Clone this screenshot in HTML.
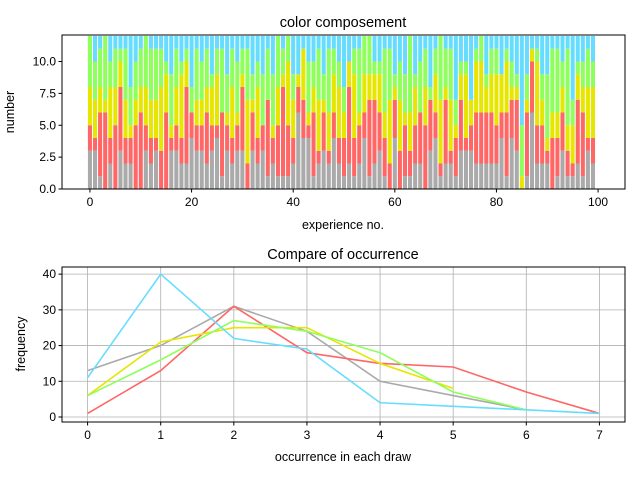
<!DOCTYPE html>
<html><head><meta charset="utf-8"><style>
body{margin:0;background:#fff;}
svg text{font-family:"Liberation Sans","DejaVu Sans",sans-serif;fill:#000;}
</style></head><body>
<svg id="c" width="640" height="479" xmlns="http://www.w3.org/2000/svg"></svg>
<script>
const gray=[3,3,1,0,2,0,3,2,2,0,0,3,2,3,0,0,3,3,2,2,4,3,3,2,3,4,1,3,2,3,3,0,3,2,3,1,2,1,1,1,2,6,4,4,1,2,3,2,4,2,1,2,1,2,4,1,2,3,1,0,4,0,1,1,2,2,0,3,4,1,2,2,1,3,3,3,2,2,2,2,2,4,1,4,3,0,1,6,2,2,2,0,1,3,1,1,2,1,3,2];
const red=[2,1,5,6,2,5,5,2,2,5,6,2,2,1,3,6,1,2,2,6,2,2,2,4,2,1,5,2,2,2,5,2,3,2,2,6,2,4,7,4,2,2,3,1,5,1,3,1,2,2,3,6,3,3,2,6,5,3,3,2,3,3,4,2,3,4,5,4,2,1,5,1,3,4,1,2,4,4,4,4,3,2,5,3,4,0,5,4,3,3,1,4,3,3,2,1,5,5,1,2];
const yellow=[3,3,2,1,4,3,2,3,1,2,2,3,3,3,5,3,1,3,5,2,0,2,2,2,3,4,0,1,4,1,1,5,1,4,0,0,1,3,1,5,3,1,4,1,2,4,1,3,3,4,2,2,5,1,3,2,2,3,2,5,1,4,1,3,3,0,3,0,3,5,1,4,1,2,5,2,4,4,2,3,4,3,4,1,1,1,1,1,5,2,1,2,2,2,2,3,2,2,4,4];
const green=[4,3,3,5,2,3,1,4,3,3,3,4,4,4,3,1,4,3,1,1,2,4,3,3,1,2,5,3,3,4,2,4,2,2,4,4,4,4,2,2,2,0,0,4,2,4,2,5,2,2,2,0,2,5,3,3,1,1,5,4,1,3,3,6,1,4,3,1,2,5,3,4,2,1,1,0,1,2,1,2,2,0,1,2,1,4,2,0,1,2,5,5,5,2,6,2,1,2,3,2];
const cyan=[0,2,1,0,2,1,1,1,4,2,1,0,1,1,1,2,3,1,2,1,4,1,2,1,3,1,1,3,1,2,1,1,3,2,3,1,3,0,1,0,3,3,1,2,2,1,3,1,1,2,4,2,1,1,0,0,2,2,1,1,3,2,3,0,3,2,1,4,1,0,1,1,5,2,2,5,1,0,3,1,1,3,1,2,3,7,3,1,1,3,3,1,1,2,1,5,2,2,1,2];
const occX=[0,1,2,3,4,5,6,7];
const freqGray=[13,20,31,24,10,6,2];
const freqRed=[1,13,31,18,15,14,7,1];
const freqYellow=[6,21,25,25,15,8];
const freqGreen=[6,16,27,24,18,7,2];
const freqCyan=[11,40,22,19,4,3,2,1];
const topYTicks=[0,2.5,5,7.5,10];
const topXTicks=[0,20,40,60,80,100];
const botYTicks=[0,10,20,30,40];

const svg=document.getElementById('c');const NS='http://www.w3.org/2000/svg';
function mk(t,a,p){const e=document.createElementNS(NS,t);for(const k in a)e.setAttribute(k,a[k]);(p||svg).appendChild(e);return e;}
const cols={gray:'#aaaaaa',red:'#ff6666',yellow:'#e6e600',green:'#8eff5c',cyan:'#66ddff'};
// top axes
const T={l:62,r:625,t:35,b:189,x0:-5.5,x1:105.3,y0:0,y1:12.08};
const tx=v=>T.l+(v-T.x0)/(T.x1-T.x0)*(T.r-T.l);
const ty=v=>T.b-(v-T.y0)/(T.y1-T.y0)*(T.b-T.t);
const gTop=mk('g',{});
const series=[[gray,'gray'],[red,'red'],[yellow,'yellow'],[green,'green'],[cyan,'cyan']];
for(let i=0;i<gray.length;i++){let base=0;
 for(const [arr,n] of series){const v=arr[i];if(v>0){const r=mk('rect',{x:tx(i-0.4),y:ty(base+v),width:tx(i+0.4)-tx(i-0.4),height:ty(base)-ty(base+v),fill:cols[n]},gTop);
 
 }base+=v;}}
mk('rect',{x:T.l,y:T.t,width:T.r-T.l,height:T.b-T.t,fill:'none',stroke:'#000','stroke-width':1});
topYTicks.forEach(v=>{mk('line',{x1:T.l-3.5,x2:T.l,y1:ty(v),y2:ty(v),stroke:'#000'});const t=mk('text',{x:T.l-6,y:ty(v)+4,'font-size':12,'text-anchor':'end'});t.textContent=v.toFixed(1);});
topXTicks.forEach(v=>{mk('line',{x1:tx(v),x2:tx(v),y1:T.b,y2:T.b+3.5,stroke:'#000'});const t=mk('text',{x:tx(v),y:T.b+17,'font-size':12,'text-anchor':'middle'});t.textContent=v;});
let e=mk('text',{x:343,y:27,'font-size':14.5,'text-anchor':'middle'});e.textContent='color composement';
e=mk('text',{x:343,y:229,'font-size':12.5,'text-anchor':'middle'});e.textContent='experience no.';
e=mk('text',{x:14,y:112,'font-size':12.5,'text-anchor':'middle',transform:'rotate(-90 14 112)'});e.textContent='number';
// bottom axes
const B={l:62,r:625,t:267,b:422,x0:-0.35,x1:7.35,y0:-1.4,y1:42};
const bx=v=>B.l+(v-B.x0)/(B.x1-B.x0)*(B.r-B.l);
const by=v=>B.b-(v-B.y0)/(B.y1-B.y0)*(B.b-B.t);
occX.forEach(v=>{mk('line',{x1:bx(v),x2:bx(v),y1:B.t,y2:B.b,stroke:'#b0b0b0','stroke-width':0.8});mk('line',{x1:bx(v),x2:bx(v),y1:B.b,y2:B.b+3.5,stroke:'#000'});const t=mk('text',{x:bx(v),y:B.b+17,'font-size':12,'text-anchor':'middle'});t.textContent=v;});
botYTicks.forEach(v=>{mk('line',{x1:B.l,x2:B.r,y1:by(v),y2:by(v),stroke:'#b0b0b0','stroke-width':0.8});mk('line',{x1:B.l-3.5,x2:B.l,y1:by(v),y2:by(v),stroke:'#000'});const t=mk('text',{x:B.l-6,y:by(v)+4,'font-size':12,'text-anchor':'end'});t.textContent=v;});
[[freqGray,'gray'],[freqRed,'red'],[freqYellow,'yellow'],[freqGreen,'green'],[freqCyan,'cyan']].forEach(([arr,n])=>{
 const p=mk('polyline',{points:arr.map((v,i)=>bx(occX[i])+','+by(v)).join(' '),fill:'none',stroke:cols[n],'stroke-width':1.6});
 
 });
mk('rect',{x:B.l,y:B.t,width:B.r-B.l,height:B.b-B.t,fill:'none',stroke:'#000','stroke-width':1});
e=mk('text',{x:343,y:259,'font-size':14.5,'text-anchor':'middle'});e.textContent='Compare of occurrence';
e=mk('text',{x:343,y:461,'font-size':12.5,'text-anchor':'middle'});e.textContent='occurrence in each draw';
e=mk('text',{x:25,y:344,'font-size':12.5,'text-anchor':'middle',transform:'rotate(-90 25 344)'});e.textContent='frequency';
</script>
</body></html>
